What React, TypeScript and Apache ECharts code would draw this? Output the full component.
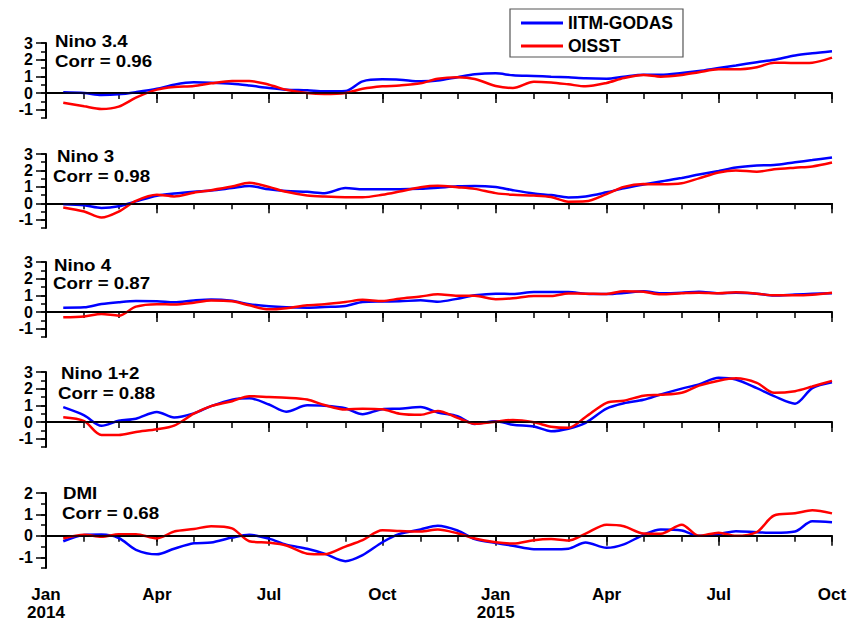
import React, { useEffect, useRef } from 'react';
import * as echarts from 'echarts';

// ---------- data ----------
const dates = [
  '2014-01-15', '2014-02-01', '2014-02-15', '2014-03-01', '2014-03-15', '2014-04-01', '2014-04-15',
  '2014-05-01', '2014-05-15', '2014-06-01', '2014-06-15', '2014-07-01', '2014-07-15', '2014-08-01',
  '2014-08-15', '2014-09-01', '2014-09-15', '2014-10-01', '2014-10-15', '2014-11-01', '2014-11-15',
  '2014-12-01', '2014-12-15', '2015-01-01', '2015-01-15', '2015-02-01', '2015-02-15', '2015-03-01',
  '2015-03-15', '2015-04-01', '2015-04-15', '2015-05-01', '2015-05-15', '2015-06-01', '2015-06-15',
  '2015-07-01', '2015-07-15', '2015-08-01', '2015-08-15', '2015-09-01', '2015-09-15', '2015-10-01',
];

const nino34Godas = [0.04, 0.0, -0.12, -0.08, 0.05, 0.25, 0.5, 0.64, 0.62, 0.56, 0.45, 0.3, 0.2, 0.16, 0.1, 0.12, 0.7, 0.82, 0.8, 0.7, 0.75, 0.95, 1.12, 1.18, 1.06, 1.02, 0.98, 0.94, 0.88, 0.86, 0.98, 1.1, 1.1, 1.2, 1.32, 1.5, 1.65, 1.85, 2.0, 2.25, 2.38, 2.5];
const nino34Oisst = [-0.58, -0.8, -0.96, -0.82, -0.28, 0.2, 0.36, 0.42, 0.58, 0.72, 0.72, 0.5, 0.2, 0.0, -0.06, 0.0, 0.25, 0.4, 0.45, 0.58, 0.85, 0.94, 0.84, 0.42, 0.3, 0.68, 0.63, 0.52, 0.4, 0.6, 0.9, 1.08, 0.98, 1.08, 1.25, 1.42, 1.42, 1.55, 1.82, 1.8, 1.82, 2.12];

const nino3Godas = [-0.06, -0.12, -0.28, -0.18, 0.12, 0.46, 0.6, 0.71, 0.78, 0.93, 1.05, 0.85, 0.75, 0.7, 0.62, 0.93, 0.86, 0.85, 0.85, 0.88, 0.95, 1.04, 1.06, 0.99, 0.8, 0.6, 0.5, 0.36, 0.42, 0.67, 0.91, 1.14, 1.33, 1.54, 1.75, 1.97, 2.18, 2.3, 2.33, 2.5, 2.63, 2.79];
const nino3Oisst = [-0.25, -0.5, -0.86, -0.5, 0.15, 0.52, 0.42, 0.65, 0.8, 1.02, 1.25, 1.0, 0.7, 0.48, 0.41, 0.37, 0.37, 0.52, 0.72, 0.98, 1.07, 0.98, 0.88, 0.62, 0.52, 0.47, 0.38, 0.1, 0.12, 0.56, 1.0, 1.17, 1.16, 1.22, 1.52, 1.88, 2.0, 1.92, 2.07, 2.17, 2.24, 2.48];

const nino4Godas = [0.26, 0.28, 0.48, 0.59, 0.66, 0.65, 0.58, 0.69, 0.75, 0.67, 0.47, 0.34, 0.28, 0.26, 0.3, 0.36, 0.6, 0.63, 0.64, 0.7, 0.62, 0.8, 1.0, 1.1, 1.08, 1.2, 1.2, 1.2, 1.1, 1.08, 1.14, 1.25, 1.12, 1.15, 1.22, 1.13, 1.16, 1.1, 0.99, 1.05, 1.09, 1.12];
const nino4Oisst = [-0.32, -0.27, -0.12, -0.22, 0.32, 0.47, 0.45, 0.56, 0.69, 0.65, 0.4, 0.16, 0.23, 0.4, 0.47, 0.6, 0.73, 0.66, 0.8, 0.93, 1.06, 0.97, 0.97, 0.77, 0.82, 0.96, 0.96, 1.11, 1.1, 1.08, 1.25, 1.22, 1.06, 1.12, 1.16, 1.12, 1.18, 1.1, 1.0, 1.0, 1.04, 1.16];

const nino12Godas = [0.89, 0.4, -0.23, 0.07, 0.2, 0.6, 0.27, 0.52, 0.95, 1.34, 1.42, 1.05, 0.62, 1.0, 0.97, 0.82, 0.47, 0.77, 0.8, 0.9, 0.57, 0.35, -0.12, 0.05, -0.17, -0.27, -0.55, -0.4, -0.05, 0.8, 1.12, 1.33, 1.65, 2.0, 2.26, 2.65, 2.55, 2.03, 1.55, 1.1, 2.03, 2.38];
const nino12Oisst = [0.28, 0.05, -0.78, -0.78, -0.6, -0.44, -0.22, 0.5, 0.95, 1.25, 1.55, 1.5, 1.46, 1.35, 1.02, 0.75, 0.8, 0.76, 0.5, 0.43, 0.66, 0.25, -0.1, 0.02, 0.12, -0.02, -0.28, -0.35, 0.3, 1.15, 1.28, 1.58, 1.63, 1.75, 2.18, 2.48, 2.62, 2.35, 1.75, 1.85, 2.13, 2.47];

const dmiGodas = [-0.25, 0.04, 0.06, -0.1, -0.65, -0.86, -0.6, -0.35, -0.31, -0.08, 0.05, -0.13, -0.41, -0.6, -0.83, -1.18, -0.9, -0.3, 0.09, 0.3, 0.47, 0.25, -0.15, -0.33, -0.46, -0.62, -0.63, -0.6, -0.31, -0.56, -0.4, 0.05, 0.3, 0.25, 0.0, 0.08, 0.22, 0.17, 0.14, 0.2, 0.68, 0.64];
const dmiOisst = [-0.12, 0.05, -0.04, 0.07, 0.08, -0.12, 0.2, 0.32, 0.45, 0.35, -0.25, -0.32, -0.45, -0.83, -0.86, -0.5, -0.2, 0.26, 0.23, 0.2, 0.3, 0.12, -0.12, -0.3, -0.36, -0.2, -0.15, -0.22, 0.1, 0.52, 0.45, 0.11, 0.1, 0.52, 0.0, 0.15, 0.0, 0.18, 0.95, 1.05, 1.19, 1.05];

const panelNames = ['Nino 3.4', 'Nino 3', 'Nino 4', 'Nino 1+2', 'DMI'];
const corrLabels = ['Corr = 0.96', 'Corr = 0.98', 'Corr = 0.87', 'Corr = 0.88', 'Corr = 0.68'];
const godasSeries = [nino34Godas, nino3Godas, nino4Godas, nino12Godas, dmiGodas];
const oisstSeries = [nino34Oisst, nino3Oisst, nino4Oisst, nino12Oisst, dmiOisst];
const yMaxes = [3, 3, 3, 3, 2];
const yMin = -1.5;
const monthNames = ['Jan', 'Feb', 'Mar', 'Apr', 'May', 'Jun', 'Jul', 'Aug', 'Sep', 'Oct', 'Nov', 'Dec'];
const seriesNames = ['IITM-GODAS', 'OISST'];

// ---------- layout ----------
const gridTops = [43, 154, 262, 372, 493];
const gridHeights = [75, 74, 75, 75, 75];
const titlePos = [
  [[55, 33], [55, 53]],
  [[57, 147.3], [53, 168]],
  [[54, 257.1], [53, 274.6]],
  [[61, 364.5], [58, 384.5]],
  [[63, 484.5], [62, 504.5]],
];
const FONT = '"Liberation Sans", Arial, Helvetica, sans-serif';

const ts = (s: string) => {
  const [y, m, d] = s.split('-').map(Number);
  return new Date(y, m - 1, d).getTime();
};

const xMin = new Date(2014, 0, 1).getTime();
const xMax = new Date(2015, 9, 1).getTime();
const monthTicks: number[] = [];
const quarterTicks: number[] = [];
for (let k = 0; k <= 21; k++) {
  const t = new Date(2014, k, 1).getTime();
  monthTicks.push(t);
  if (k % 3 === 0) quarterTicks.push(t);
}

export default function App() {
  const ref = useRef<HTMLDivElement>(null);
  useEffect(() => {
    if (!ref.current) return;
    const chart = echarts.init(ref.current, null, { renderer: 'svg' });

    const grids: any[] = [];
    const xAxes: any[] = [];
    const yAxes: any[] = [];
    const series: any[] = [];
    const graphics: any[] = [];

    for (let i = 0; i < 5; i++) {
      grids.push({ left: 46, right: 32, top: gridTops[i], height: gridHeights[i] });
      const isLast = i === 4;
      xAxes.push({
        type: 'value', gridIndex: i, min: xMin, max: xMax, position: 'bottom',
        axisLine: { show: true, lineStyle: { color: '#000', width: 2 } },
        axisTick: { show: true, customValues: monthTicks, length: 6, lineStyle: { color: '#000', width: 1.5 } },
        axisLabel: { show: false },
        splitLine: { show: false },
      });
      xAxes.push({
        type: 'value', gridIndex: i, min: xMin, max: xMax, position: 'bottom',
        axisLine: { show: false },
        axisTick: { show: true, customValues: quarterTicks, length: 10, lineStyle: { color: '#000', width: 1.5 } },
        axisLabel: {
          show: isLast, customValues: quarterTicks, margin: 17,
          color: '#000', fontWeight: 'bold', fontSize: 17, fontFamily: FONT, lineHeight: 18,
          formatter: (v: number) => {
            const d = new Date(v);
            const m = d.getMonth();
            return monthNames[m] + (m === 0 ? '\n' + d.getFullYear() : '');
          },
        },
        splitLine: { show: false },
      });
      const yMax = yMaxes[i];
      const majors: number[] = [];
      const minors: number[] = [];
      for (let v = -1; v <= yMax; v++) majors.push(v);
      for (let v = yMin; v <= yMax + 1e-9; v += 0.5) minors.push(v);
      yAxes.push({
        type: 'value', gridIndex: i, min: yMin, max: yMax, position: 'left',
        axisLine: { show: true, lineStyle: { color: '#000', width: 2 } },
        axisTick: { show: true, customValues: majors, length: 10, lineStyle: { color: '#000', width: 1.5 } },
        axisLabel: {
          show: true, customValues: majors, margin: 13, hideOverlap: false,
          color: '#000', fontWeight: 'bold', fontSize: 16, fontFamily: FONT,
        },
        splitLine: { show: false },
      });
      yAxes.push({
        type: 'value', gridIndex: i, min: yMin, max: yMax, position: 'left',
        axisLine: { show: false },
        axisTick: { show: true, customValues: minors, length: 5, lineStyle: { color: '#000', width: 1.5 } },
        axisLabel: { show: false },
        splitLine: { show: false },
      });

      series.push({
        type: 'line', name: seriesNames[0], xAxisIndex: 2 * i, yAxisIndex: 2 * i,
        data: dates.map((d, k) => [ts(d), godasSeries[i][k]]),
        symbol: 'none', showSymbol: false, smooth: 0.3,
        lineStyle: { color: '#0000ff', width: 2.5 }, itemStyle: { color: '#0000ff' },
        markLine: {
          silent: true, symbol: 'none', label: { show: false },
          lineStyle: { color: '#000', width: 1.5, type: 'solid' },
          data: [{ yAxis: 0 }],
        },
      });
      series.push({
        type: 'line', name: seriesNames[1], xAxisIndex: 2 * i, yAxisIndex: 2 * i,
        data: dates.map((d, k) => [ts(d), oisstSeries[i][k]]),
        symbol: 'none', showSymbol: false, smooth: 0.3,
        lineStyle: { color: '#ff0000', width: 2.5 }, itemStyle: { color: '#ff0000' },
      });

      const labels = [panelNames[i], corrLabels[i]];
      for (let j = 0; j < 2; j++) {
        graphics.push({
          type: 'text', x: titlePos[i][j][0], y: titlePos[i][j][1], silent: true,
          scaleX: 1.1,
          style: {
            text: labels[j], fill: '#000', fontSize: 17, fontWeight: 'bold', fontFamily: FONT,
            align: 'left', verticalAlign: 'top',
          },
        });
      }
    }

    chart.setOption({
      animation: false,
      backgroundColor: '#fff',
      grid: grids,
      xAxis: xAxes,
      yAxis: yAxes,
      series,
      graphic: graphics,
      legend: {
        data: seriesNames, orient: 'vertical', left: 510, top: 9,
        padding: [4, 10, 1, 11], itemGap: 3, itemWidth: 42, itemHeight: 3, icon: 'rect',
        borderColor: '#555', borderWidth: 1.2, backgroundColor: '#fff',
        textStyle: { color: '#000', fontWeight: 'bold', fontSize: 17.5, fontFamily: FONT, lineHeight: 20 },
      },
    });
    return () => chart.dispose();
  }, []);
  return <div ref={ref} style={{ position: 'absolute', left: 0, top: 0, width: 864, height: 621 }} />;
}
